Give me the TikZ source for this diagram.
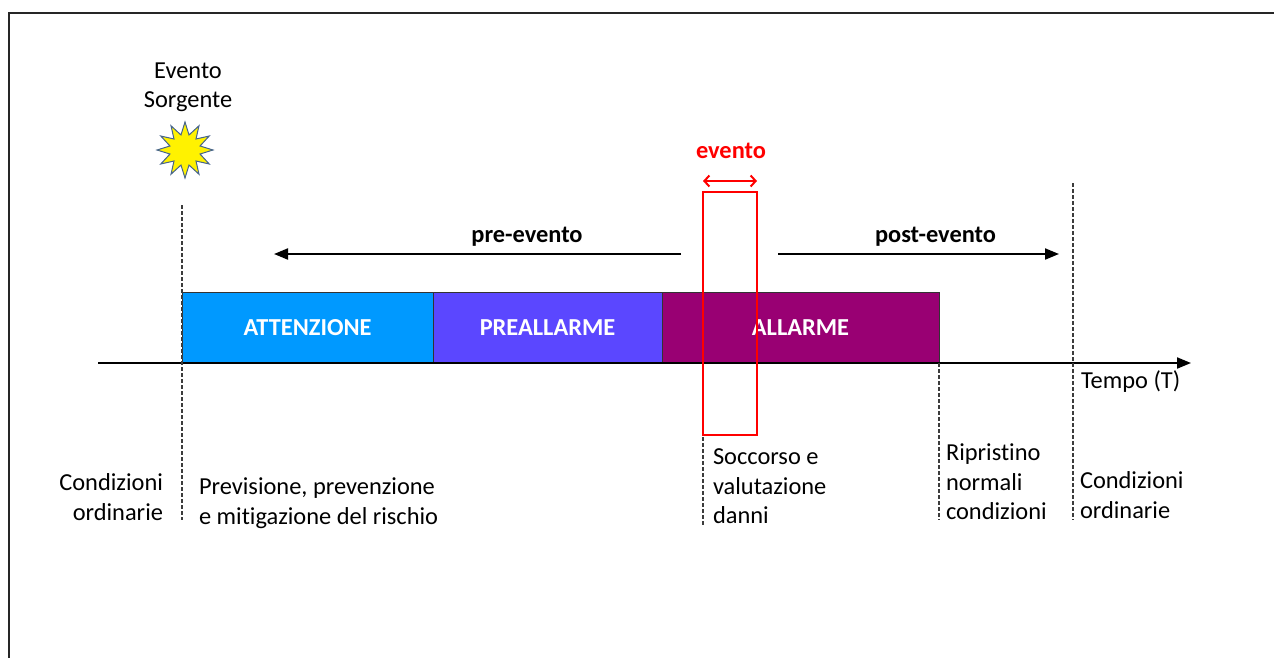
\documentclass[tikz,border=0pt]{standalone}
\usepackage{fontspec}
\setmainfont{Carlito}[Ligatures=NoCommon]
\usetikzlibrary{shapes.geometric,arrows.meta}
\definecolor{attc}{RGB}{0,153,255}
\definecolor{prec}{RGB}{91,71,255}
\definecolor{allc}{RGB}{153,0,115}
\definecolor{evred}{RGB}{255,0,0}
\definecolor{dashc}{RGB}{60,60,60}
\definecolor{starc}{RGB}{70,100,140}
\begin{document}
\begin{tikzpicture}[x=1pt,y=-1pt,
  every node/.style={font=\fontsize{24.4}{29.3}\selectfont, inner sep=0pt, outer sep=0pt},
  phase/.style={draw=black!80, line width=1pt, minimum height=71pt, anchor=south west,
    text=white, font=\fontsize{24.4}{29.3}\selectfont\bfseries},
  lbl/.style={align=left, anchor=north west},
  dashline/.style={dashc, line width=1.2pt, dash pattern=on 4pt off 2pt},
  bigarrow/.style={line width=2pt, -{Triangle[length=14pt,width=11pt]}},
  bold/.style={font=\fontsize{24.4}{29.3}\selectfont\bfseries}]
\useasboundingbox (0,0) rectangle (1274,657);
% frame
\draw[line width=2pt, black!85] (9,690) -- (9,13) -- (1300,13);
% source event
\node[align=center, anchor=north] (src) at (188,63) {Evento\\Sorgente};
\node[star, star points=12, star point ratio=1.8, minimum size=56pt,
      fill=yellow, draw=starc, line width=1pt] (star) at (185,150) {};
% phases
\node[phase, fill=attc, minimum width=251pt] (att) at (182,363) {ATTENZIONE};
\node[phase, fill=prec, minimum width=229pt] (pre) at (433,363) {PREALLARME};
\node[phase, fill=allc, minimum width=277pt] (all) at (662,363) {ALLARME};
% axis
\coordinate (ax0) at (98,363);
\coordinate (ax1) at (1191,363);
\draw[bigarrow] (ax0) -- (ax1);
\node[anchor=base west] (tempo) at (1081,388) {Tempo (T)};
% dashed markers
\coordinate (d1a) at (182,205); \coordinate (d1b) at (182,520);
\coordinate (d2a) at (939,363); \coordinate (d2b) at (939,520);
\coordinate (d3a) at (1073,183); \coordinate (d3b) at (1073,520);
\coordinate (d4a) at (703,437); \coordinate (d4b) at (703,526);
\draw[dashline] (d1a) -- (d1b);
\draw[dashline] (d2a) -- (d2b);
\draw[dashline] (d3a) -- (d3b);
\draw[dashline] (d4a) -- (d4b);
% event box
\node[draw=evred, line width=2.5pt, minimum width=54pt, minimum height=243pt,
      anchor=north west] (evbox) at (703,192) {};
\coordinate (ea) at (703,181);
\coordinate (eb) at (757,181);
\draw[evred, line width=2pt, {Straight Barb[length=5pt,width=11pt]}-{Straight Barb[length=5pt,width=11pt]}] (ea) -- (eb);
\node[bold, text=evred, anchor=base] (evlbl) at (731,158) {evento};
% pre / post arrows
\coordinate (pa) at (681,254); \coordinate (pb) at (274,254);
\coordinate (qa) at (778,254); \coordinate (qb) at (1059,254);
\draw[bigarrow] (pa) -- (pb);
\draw[bigarrow] (qa) -- (qb);
\node[bold, anchor=base] (prelbl) at (527,242) {pre-evento};
\node[bold, anchor=base east] (postlbl) at (996,242) {post-evento};
% bottom labels
\node[align=right, anchor=north east] (c1) at (163,474) {Condizioni\\ordinarie};
\node[lbl] (prev) at (199,478) {Previsione, prevenzione\\e mitigazione del rischio};
\node[lbl] (socc) at (713,449) {Soccorso e\\valutazione\\danni};
\node[lbl] (ripr) at (946,444) {Ripristino\\normali\\condizioni};
\node[lbl] (c2) at (1080,472) {Condizioni\\ordinarie};
\end{tikzpicture}
\end{document}
